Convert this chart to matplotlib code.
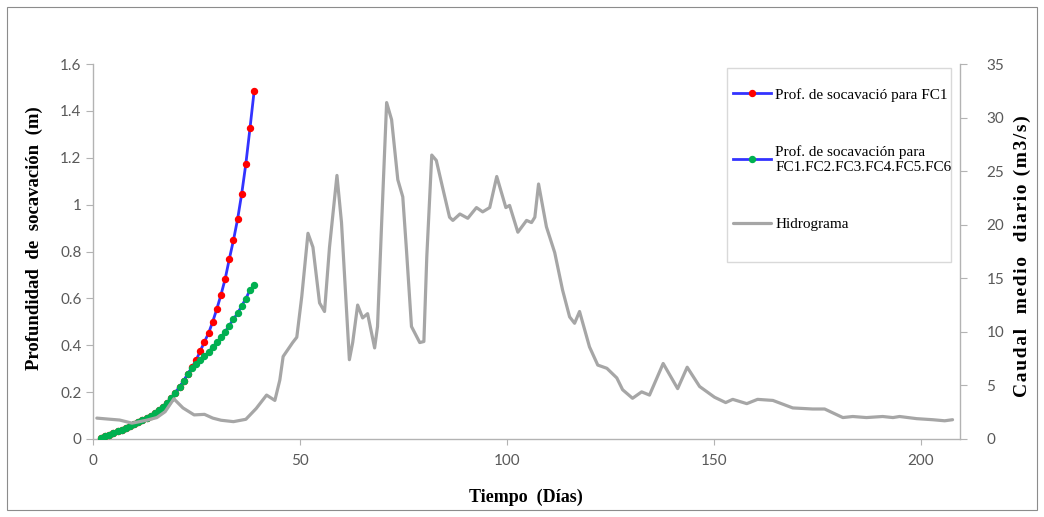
import numpy as np
import matplotlib
matplotlib.use("Agg")
import matplotlib.pyplot as plt
from matplotlib.patches import Rectangle

# ---- data ----
days = list(range(2, 40))
# Prof. de socavación para FC1 (m)
prof_fc1 = [0.005, 0.012, 0.019, 0.026, 0.033, 0.040, 0.047, 0.055, 0.063, 0.071,
            0.080, 0.089, 0.099, 0.110, 0.123, 0.138, 0.155, 0.176, 0.198, 0.222,
            0.248, 0.278, 0.306, 0.337, 0.376, 0.415, 0.452, 0.501, 0.556, 0.616,
            0.683, 0.768, 0.848, 0.938, 1.047, 1.175, 1.327, 1.485]
# Prof. de socavación para FC1..FC6 (m)
prof_all = [0.005, 0.012, 0.019, 0.026, 0.033, 0.040, 0.047, 0.055, 0.063, 0.071,
            0.080, 0.089, 0.099, 0.110, 0.123, 0.138, 0.155, 0.176, 0.198, 0.222,
            0.248, 0.278, 0.303, 0.319, 0.336, 0.353, 0.372, 0.392, 0.413, 0.434,
            0.458, 0.484, 0.512, 0.536, 0.568, 0.599, 0.636, 0.657]

# Hidrograma: day, caudal medio diario (m3/s)
hid_day = [1, 4, 6.5, 9.5, 13, 15.5, 17.5, 19.6, 21.8, 24.5, 27, 29, 31, 34, 37,
           39.5, 42, 44, 45.2, 46, 48.3, 49.3, 50.5, 52, 53.2, 54.8, 56, 57.2, 59,
           60.1, 62, 62.8, 64, 65.2, 66.4, 68.1, 68.8, 69.8, 71, 72.2, 73.7, 74.9,
           75.8, 77, 79, 80, 80.7, 81.9, 83, 84.5, 86.2, 87, 88.7, 90.6, 92.7, 94.2,
           95.9, 97.6, 99.8, 100.7, 102.7, 104.8, 106, 106.8, 107.7, 109.6, 111.6,
           113.5, 115.2, 116.4, 117.6, 120, 122, 124.2, 126.6, 128, 130.4, 132.6,
           134.5, 137.8, 141.3, 143.6, 146.6, 150.2, 152.9, 154.6, 158, 160.6,
           164.3, 169.1, 173.9, 176.8, 181.2, 183.6, 186.9, 190.8, 193.3, 194.9,
           199, 202.9, 205.8, 207.7]
hid_q = [1.95, 1.85, 1.77, 1.48, 1.75, 2.0, 2.55, 3.75, 2.9, 2.25, 2.3, 1.95, 1.75,
         1.62, 1.84, 2.85, 4.1, 3.6, 5.5, 7.7, 9.0, 9.5, 13.3, 19.2, 17.9, 12.7,
         11.9, 17.9, 24.6, 20.2, 7.4, 9.0, 12.5, 11.3, 11.7, 8.5, 10.5, 20.2, 31.4,
         29.8, 24.2, 22.6, 17.6, 10.5, 9.0, 9.1, 17.0, 26.5, 26.0, 23.5, 20.7, 20.4,
         21.0, 20.6, 21.6, 21.2, 21.6, 24.5, 21.6, 21.8, 19.3, 20.4, 20.2, 20.7,
         23.8, 19.8, 17.4, 13.9, 11.4, 10.8, 11.9, 8.6, 6.9, 6.6, 5.7, 4.6, 3.8,
         4.4, 4.1, 7.05, 4.7, 6.7, 4.9, 3.9, 3.4, 3.7, 3.3, 3.7, 3.6, 2.9, 2.8,
         2.8, 2.0, 2.1, 2.0, 2.1, 2.0, 2.1, 1.9, 1.8, 1.7, 1.8]

x_ticks = [0, 50, 100, 150, 200]
y_ticks = [0, 0.2, 0.4, 0.6, 0.8, 1, 1.2, 1.4, 1.6]
y_tick_labels = ["0", "0.2", "0.4", "0.6", "0.8", "1", "1.2", "1.4", "1.6"]
y2_ticks = [0, 5, 10, 15, 20, 25, 30, 35]

label_fc1 = "Prof. de socavació para FC1"
label_all = "Prof. de socavación para\nFC1.FC2.FC3.FC4.FC5.FC6"
label_hid = "Hidrograma"

# ---- styling ----
W, H = 1044, 517
BLUE = "#3333ff"
GRAY = "#a6a6a6"
SPINE = "#b3b3b3"
TICKC = "#595959"
tickfont = dict(family="Lato", size=11)
serif = ["Liberation Serif", "DejaVu Serif"]


def spaced(s, sep="\u200a"):
    return sep.join(s)


fig = plt.figure(figsize=(W / 100, H / 100), dpi=100)
left, right, bottom, top = 92.7, 960, 439, 64
ax = fig.add_axes([left / W, 1 - bottom / H, (right - left) / W, (bottom - top) / H])
ax2 = ax.twinx()

l1, = ax.plot(days, prof_fc1, color=BLUE, lw=2, marker="o", ms=4.3,
              mfc="#ff0000", mec="#ff0000", zorder=3, label=label_fc1,
              solid_joinstyle="round")
l2, = ax.plot(days, prof_all, color=BLUE, lw=2, marker="o", ms=4.3,
              mfc="#00b050", mec="#00b050", zorder=4, label=label_all,
              solid_joinstyle="round")
l3, = ax2.plot(hid_day, hid_q, color=GRAY, lw=2.3, label=label_hid,
               solid_joinstyle="round", solid_capstyle="round")

ax.set_xlim(0, 209.5)
ax.set_ylim(0, 1.6)
ax2.set_ylim(0, 35)
ax.set_xticks(x_ticks)
ax.set_xticklabels([str(v) for v in x_ticks], color=TICKC, **tickfont)
ax.set_yticks(y_ticks)
ax.set_yticklabels(y_tick_labels, color=TICKC, **tickfont)
ax2.set_yticks(y2_ticks)
ax2.set_yticklabels([str(v) for v in y2_ticks], color=TICKC, **tickfont)

for a in (ax, ax2):
    for s in a.spines.values():
        s.set_color(SPINE)
        s.set_linewidth(1)
    a.spines["top"].set_visible(False)
ax.spines["right"].set_visible(False)
ax2.spines["left"].set_visible(False)
ax2.spines["bottom"].set_visible(False)

ax.tick_params(axis="x", direction="out", length=4, color=SPINE, pad=7)
ax.tick_params(axis="y", direction="out", length=5, color=SPINE, pad=3)
ax2.tick_params(axis="y", direction="out", length=5, color=SPINE, pad=14)

ax.set_xlabel("Tiempo  (Días)", family=serif, weight="bold", fontsize=13, labelpad=15)
ax.set_ylabel("Profundidad  de  socavación  (m)", family=serif, weight="bold", fontsize=13.5)
ax2.set_ylabel(spaced("Caudal  medio  diario (m3/s)"), family=serif, weight="bold",
               fontsize=14, rotation=90)
ax.yaxis.set_label_coords(-(left - 43) / (right - left), (bottom - 238) / (bottom - top))
ax2.yaxis.set_label_coords(1 + (1014 - right) / (right - left), (bottom - 256) / (bottom - top))

# legend frame and entries
ax2.add_patch(Rectangle(((727 - left) / (right - left), (bottom - 262) / (bottom - top)),
                        (951 - 727) / (right - left), (262 - 68) / (bottom - top),
                        transform=ax2.transAxes, fill=True, facecolor="white",
                        edgecolor="#d9d9d9", lw=1, zorder=5))
leg = ax2.legend(handles=[l1, l2, l3], loc="upper left",
                 bbox_to_anchor=((733 - left) / (right - left), (bottom - 88) / (bottom - top)),
                 numpoints=1, prop={"family": serif, "size": 11}, frameon=False,
                 handlelength=2.5, handletextpad=0.28, labelspacing=2.85,
                 borderpad=0, borderaxespad=0)
leg.set_zorder(6)

fig.patches.append(Rectangle((7 / W, 7 / H), (1037 - 7) / W, (510 - 7) / H,
                             transform=fig.transFigure, fill=False,
                             edgecolor="#8c8c8c", lw=0.8))

fig.savefig("out.png", dpi=100)
